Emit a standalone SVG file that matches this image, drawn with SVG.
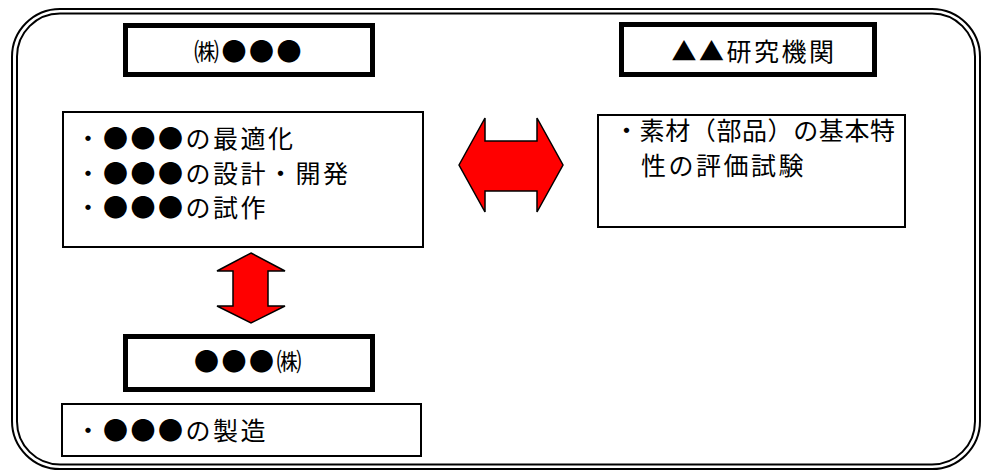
<svg xmlns="http://www.w3.org/2000/svg" width="984" height="471" viewBox="0 0 984 471">
<style>
.t{font-family:"Noto Sans CJK JP","Noto Sans CJK SC",sans-serif;font-size:25px;fill:#000;letter-spacing:2.5px}
.c{text-anchor:middle}
.thick{fill:#fff;stroke:#000;stroke-width:5}
.thin{fill:#fff;stroke:#000;stroke-width:2}
.frame{fill:none;stroke:#000;stroke-width:2}
.arrow{fill:#ff0000;stroke:#000;stroke-width:1.5;stroke-linejoin:miter}
</style>
<rect width="984" height="471" fill="#fff"/>
<g id="frame">
<rect class="frame" x="12" y="9" width="968" height="460" rx="48" ry="48"/>
<rect class="frame" x="17" y="13.5" width="958" height="451" rx="43" ry="43"/>
</g>
<g id="company1">
<rect class="thick" x="125.5" y="25.5" width="247" height="49"/>
<text class="t c" x="249" y="61">㈱●●●</text>
</g>
<g id="institute">
<rect class="thick" x="621.5" y="24.5" width="253" height="50"/>
<text class="t c" x="754" y="61">▲▲研究機関</text>
</g>
<g id="tasks1">
<rect class="thin" x="63" y="112" width="360" height="135"/>
<text class="t" x="75.5" y="147.5">・●●●の最適化</text>
<text class="t" x="75.5" y="182.5">・●●●の設計・開発</text>
<text class="t" x="75.5" y="216.5">・●●●の試作</text>
</g>
<g id="tasks2">
<rect class="thin" x="598" y="115" width="307" height="112"/>
<text class="t" x="614" y="140" textLength="281" lengthAdjust="spacing" style="letter-spacing:0">・素材（部品）の基本特</text>
<text class="t" x="641" y="175">性の評価試験</text>
</g>
<g id="company2">
<rect class="thick" x="125.5" y="336.5" width="247" height="53"/>
<text class="t c" x="249" y="371">●●●㈱</text>
</g>
<g id="tasks3">
<rect class="thin" x="62" y="404" width="359" height="52"/>
<text class="t" x="75.5" y="439.5">・●●●の製造</text>
</g>
<g id="connectors">
<path class="arrow" d="M459,165 L485,118 L485,141 L537,141 L537,118 L563,165 L537,212 L537,191 L485,191 L485,212 Z"/>
<path class="arrow" d="M251,253 L285,271 L268,271 L268,306 L285,306 L251,323 L217,306 L233,306 L233,271 L217,271 Z"/>
</g>
</svg>
